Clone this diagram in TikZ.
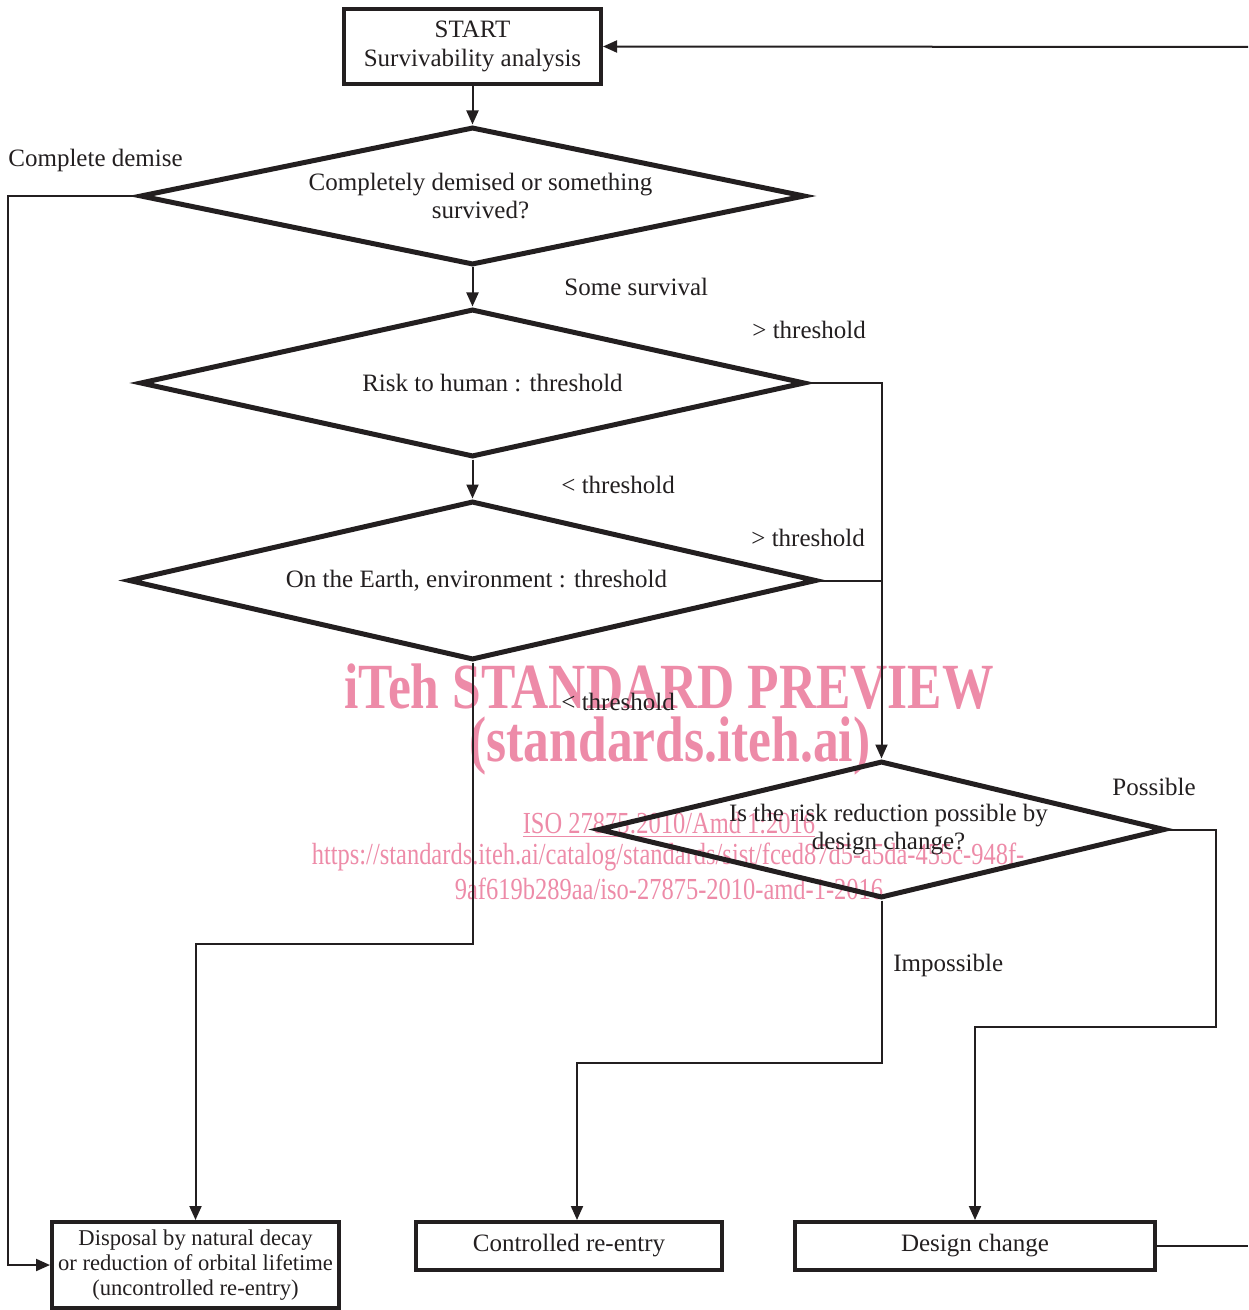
\documentclass[tikz,border=0pt]{standalone}
\usepackage{fontspec}
\setmainfont{Liberation Serif}
\newfontfamily\wmfont[FakeStretch=0.8]{Liberation Serif}
\usepackage{xcolor}
\definecolor{wmpink}{RGB}{237,139,168}
\definecolor{inkblack}{RGB}{35,31,32}
\usetikzlibrary{shapes.geometric}
\usetikzlibrary{arrows.meta}
\usetikzlibrary{positioning}

\begin{document}
\begin{tikzpicture}[x=0.5pt, y=-0.5pt,
	every node/.style={font=\fontsize{12.5}{14}\selectfont, text=inkblack},
	box/.style={draw=inkblack, line width=2pt, rectangle, inner sep=0pt, align=center},
	decision/.style={draw=inkblack, line width=2.5pt, diamond, inner sep=0pt, align=center},
	conn/.style={draw=inkblack, line width=1pt},
	arr/.style={conn, -{Triangle[length=7pt, width=6pt]}},
	lbl/.style={anchor=west, inner sep=0pt},
	wm/.style={text=wmpink, inner sep=0pt, font=\wmfont\fontsize{15.3}{17}\selectfont},
	wmbig/.style={wm, font=\wmfont\bfseries\fontsize{32.2}{35}\selectfont}]
	\useasboundingbox (0,0) rectangle (1248,1310);
				% watermark (behind)
	\node[wmbig] (wmtitle) at (669,687) {iTeh STANDARD PREVIEW};
	\node[wmbig] (wmsite) at (670,746) {(standards.iteh.ai)};
	\node[wm] (wmiso) at (669,825) {\underline{ISO 27875:2010/Amd 1:2016}};
	\node[wm] (wmurl) at (668,857) {https://standards.iteh.ai/catalog/standards/sist/fced87d5-a5da-455c-948f-};
	\node[wm] (wmid) at (669,889) {9af619b289aa/iso-27875-2010-amd-1-2016};
				% boxes and decisions
	\node[box, minimum width=128.5pt, minimum height=37.5pt, font=\fontsize{12.5}{14.5}\selectfont] (start) at (472.5,46.5) {START\\Survivability analysis};
	\node[decision, minimum width=332.5pt, minimum height=69pt, shape aspect=4.8] (demise) at (472.5,196) {\hspace*{8pt}Completely demised or something\\\hspace*{8pt}survived?};
	\node[decision, minimum width=332.5pt, minimum height=74pt, shape aspect=4.5] (human) at (472.5,383) {\hspace*{20pt}Risk to human : threshold};
	\node[decision, minimum width=344pt, minimum height=79.5pt, shape aspect=4.3] (earth) at (472.5,580.5) {\hspace*{4pt}On the Earth, environment : threshold};
	\node[decision, minimum width=283.5pt, minimum height=68.5pt, shape aspect=4.1] (reduce) at (881.5,829.5) {\hspace*{7pt}Is the risk reduction possible by\\\hspace*{7pt}design change?};
	\node[box, minimum width=143.5pt, minimum height=43pt, font=\fontsize{11.3}{12.5}\selectfont] (natural) at (195.5,1265) {Disposal by natural decay\\or reduction of orbital lifetime\\(uncontrolled re-entry)};
	\node[box, minimum width=153pt, minimum height=24pt] (controlled) at (569,1246) {Controlled re-entry};
	\node[box, minimum width=180pt, minimum height=24pt] (change) at (975,1246) {Design change};
				% free ends at the borders
	\coordinate (lft) at (8,196);
	\coordinate (edgetop) at (1248,47);
	\coordinate (edgebot) at (1248,1246);
				% connectors
	\draw[arr] (start) -- (demise);
	\draw[arr] (demise) -- (human);
	\draw[arr] (human) -- (earth);
	\draw[arr] (demise.west) -- (lft) |- (natural.west);
	\draw[arr] (human.east) -| (reduce.north);
	\draw[conn] (earth.east) -- (earth.east -| reduce.north);
	\draw[arr] (earth.south) -- ++(0,281) -| (natural.north);
	\draw[arr] (reduce.south) -- ++(0,162) -| ([xshift=4pt]controlled.north);
	\draw[arr] (reduce.east) -- ++(48,0) -- ++(0,197) -| (change.north);
	\draw[conn] (change.east) -- (edgebot);
	\draw[arr] (edgetop) -- (start.east);
				% labels
	\node[lbl] (lcomplete) at (8,160) {Complete demise};
	\node[lbl] (lsome) at (564,287) {Some survival};
	\node[lbl] (lhumanhi) at (752,330) {> threshold};
	\node[lbl] (lhumanlo) at (561,485) {< threshold};
	\node[lbl] (learthhi) at (751,538) {> threshold};
	\node[lbl] (learthlo) at (561,702) {< threshold};
	\node[lbl] (lpossible) at (1112,787) {Possible};
	\node[lbl] (limpossible) at (893,965) {Impossible};
\end{tikzpicture}
\end{document}
